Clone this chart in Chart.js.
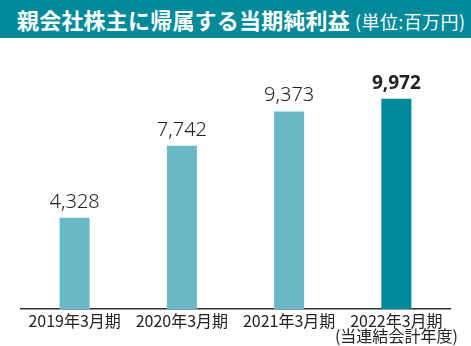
<!DOCTYPE html>
<html>
<head>
<meta charset="utf-8">
<script src="https://cdn.jsdelivr.net/npm/chart.js@4"></script>
<style>
  html, body { margin: 0; padding: 0; background: #fff; }
  body { width: 471px; height: 346px; position: relative; overflow: hidden; }
  #title {
    position: absolute; left: 0; top: 0; width: 471px; height: 38px;
    background: #008a99; color: #fff;
    font-family: "Noto Sans CJK JP", sans-serif;
    line-height: 38px; white-space: nowrap;
  }
  #title .main { font-size: 22px; font-weight: bold; margin-left: 17px; letter-spacing: 0.2px; }
  #title .unit { font-size: 18px; margin-left: 5px; letter-spacing: 0.4px; }
  #wrap { position: absolute; left: 0; top: 38px; width: 471px; height: 308px; }
</style>
</head>
<body>
<div id="title"><span class="main">親会社株主に帰属する当期純利益</span><span class="unit">(単位:百万円)</span></div>
<div id="wrap"><canvas id="chart" width="471" height="308"></canvas></div>
<script>
const labels = [
    "2019年3月期",
    "2020年3月期",
    "2021年3月期",
    ["2022年3月期", "(当連結会計年度)"]
];
const values = [4328, 7742, 9373, 9972];
const barColors = ["#68b8c5", "#68b8c5", "#68b8c5", "#008a99"];

// value labels above each bar
const valueLabels = {
    id: "valueLabels",
    afterDatasetsDraw(chart) {
        const ctx = chart.ctx;
        const meta = chart.getDatasetMeta(0);
        ctx.save();
        ctx.textAlign = "center";
        ctx.textBaseline = "alphabetic";
        ctx.fillStyle = "#222";
        meta.data.forEach((bar, i) => {
            const last = i === values.length - 1;
            ctx.font = last ? "bold 19px 'Noto Sans', sans-serif" : "300 20px 'Noto Sans', sans-serif";
            ctx.fillText(values[i].toLocaleString("en-US"), bar.x, bar.y - 10);
        });
        ctx.restore();
    }
};

new Chart(document.getElementById("chart"), {
    type: "bar",
    data: {
        labels: labels,
        datasets: [{
            data: values,
            backgroundColor: barColors,
            borderWidth: 0,
            barPercentage: 0.28,
            categoryPercentage: 1
        }]
    },
    options: {
        responsive: false,
        animation: false,
        layout: { padding: { left: 21, right: 21, top: 18, bottom: 0 } },
        plugins: { legend: { display: false }, tooltip: { enabled: false } },
        scales: {
            x: {
                grid: { display: false, drawTicks: false },
                border: { display: true, color: "#333", width: 1.5 },
                ticks: {
                    color: "#222",
                    padding: 5,
                    maxRotation: 0,
                    autoSkip: false,
                    font: { family: "'Noto Sans CJK JP', sans-serif", size: 16, lineHeight: 0.92 }
                },
                afterFit(scale) { scale.height = 37; }
            },
            y: {
                display: false,
                min: 0,
                max: 12000
            }
        }
    },
    plugins: [valueLabels]
});
</script>
</body>
</html>
